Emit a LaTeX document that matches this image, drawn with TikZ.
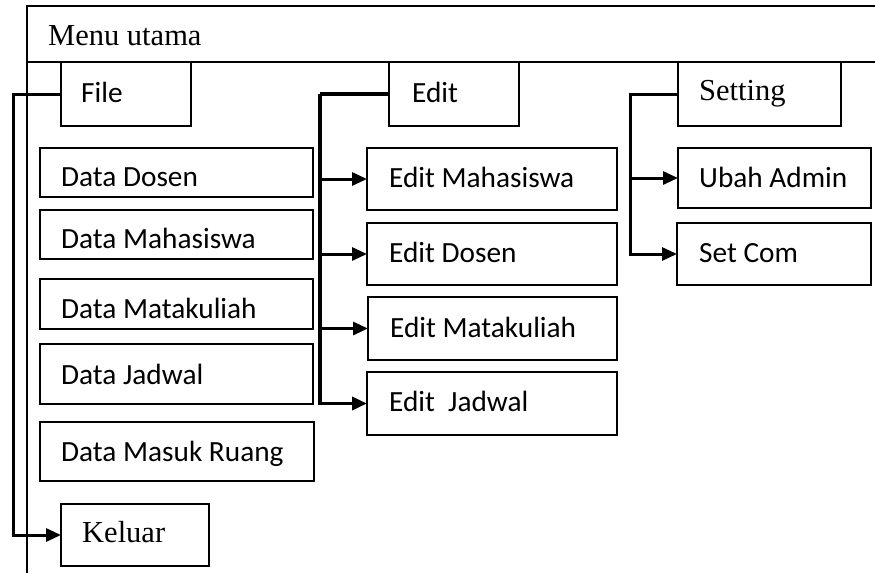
\documentclass[tikz,border=0pt]{standalone}
\usepackage{fontspec}
\setmainfont{Liberation Serif}
\newfontfamily\calfont{Carlito}
\usetikzlibrary{arrows.meta}

\tikzset{
  box/.style={draw, line width=2.3pt, inner sep=0pt, outer sep=0pt, anchor=north west},
  serif/.style={anchor=base west, inner sep=0pt, font=\fontsize{30.5}{35}\selectfont},
  sans/.style={anchor=base west, inner sep=0pt, font=\calfont\fontsize{29.3}{34}\selectfont},
  frameline/.style={line width=2.3pt},
  link/.style={line width=3pt},
  arr/.style={link, -{Triangle[length=15pt,width=13pt]}}
}

% \menubox[text style]{name}{x1}{y1}{x2}{y2}{text x}{baseline}{text}
\newcommand\menubox[9][sans]{%
  \node[box, minimum width={(#5-#3)*1pt}, minimum height={(#6-#4)*1pt}] (#2) at (#3,#4) {};
  \node[#1] (#2-t) at (#7,#8) {#9};
}

\begin{document}
\begin{tikzpicture}[x=1pt, y=-1pt]
  \useasboundingbox (0,0) rectangle (875,573);

  % outer window frame and title bar
  \draw[frameline] (875,6) -- (27,6) -- (27,573);
  \draw[frameline] (27,62) -- (875,62);
  \node[serif] (title) at (48,45) {Menu utama};

  % top-level menus
  \menubox{file}{61}{62}{191}{126}{81}{102}{File}
  \menubox{edit}{389}{62}{519}{126}{412}{102}{Edit}
  \menubox[serif]{setting}{678}{62}{841}{126}{699}{100}{Setting}

  % File items
  \menubox{dd}{40}{148}{313}{197}{61}{186}{Data Dosen}
  \menubox{dm}{40}{210}{313}{259}{61}{248}{Data Mahasiswa}
  \menubox{dk}{40}{279}{313}{329}{61}{318}{Data Matakuliah}
  \menubox{dj}{40}{344}{313}{404}{61}{384}{Data Jadwal}
  \menubox{dr}{40}{422}{314}{481}{61}{461}{Data Masuk Ruang}
  \menubox[serif]{keluar}{61}{504}{209}{566}{82}{542}{Keluar}

  % Edit items
  \menubox{em}{367}{148}{617}{210}{389}{187}{Edit Mahasiswa}
  \menubox{ed}{367}{223}{617}{285}{389}{262}{Edit Dosen}
  \menubox{ek}{368}{297}{617}{360}{390}{337}{Edit Matakuliah}
  \menubox{ej}{367}{372}{617}{435}{389}{411}{Edit\ \ Jadwal}

  % Setting items
  \menubox{ua}{678}{148}{871}{208}{699}{187}{Ubah Admin}
  \menubox{sc}{677}{223}{871}{285}{699}{262}{Set Com}

  % File connector
  \draw[arr] (file.west) -- ++(-48,0) |- (keluar.west);

  % Edit connectors
  \draw[link, line width=3.6pt] (edit.west) -- ++(-69,0) coordinate (espine);
  \draw[arr, line width=3.6pt] (espine) |- (ej.west);
  \draw[arr] (espine) |- (em.west);
  \draw[arr] (espine) |- (ed.west);
  \draw[arr] (espine) |- (ek.west);

  % Setting connectors
  \draw[arr] (setting.west) -- ++(-48,0) coordinate (sspine) |- (sc.west);
  \draw[arr] (sspine) |- (ua.west);
\end{tikzpicture}
\end{document}
